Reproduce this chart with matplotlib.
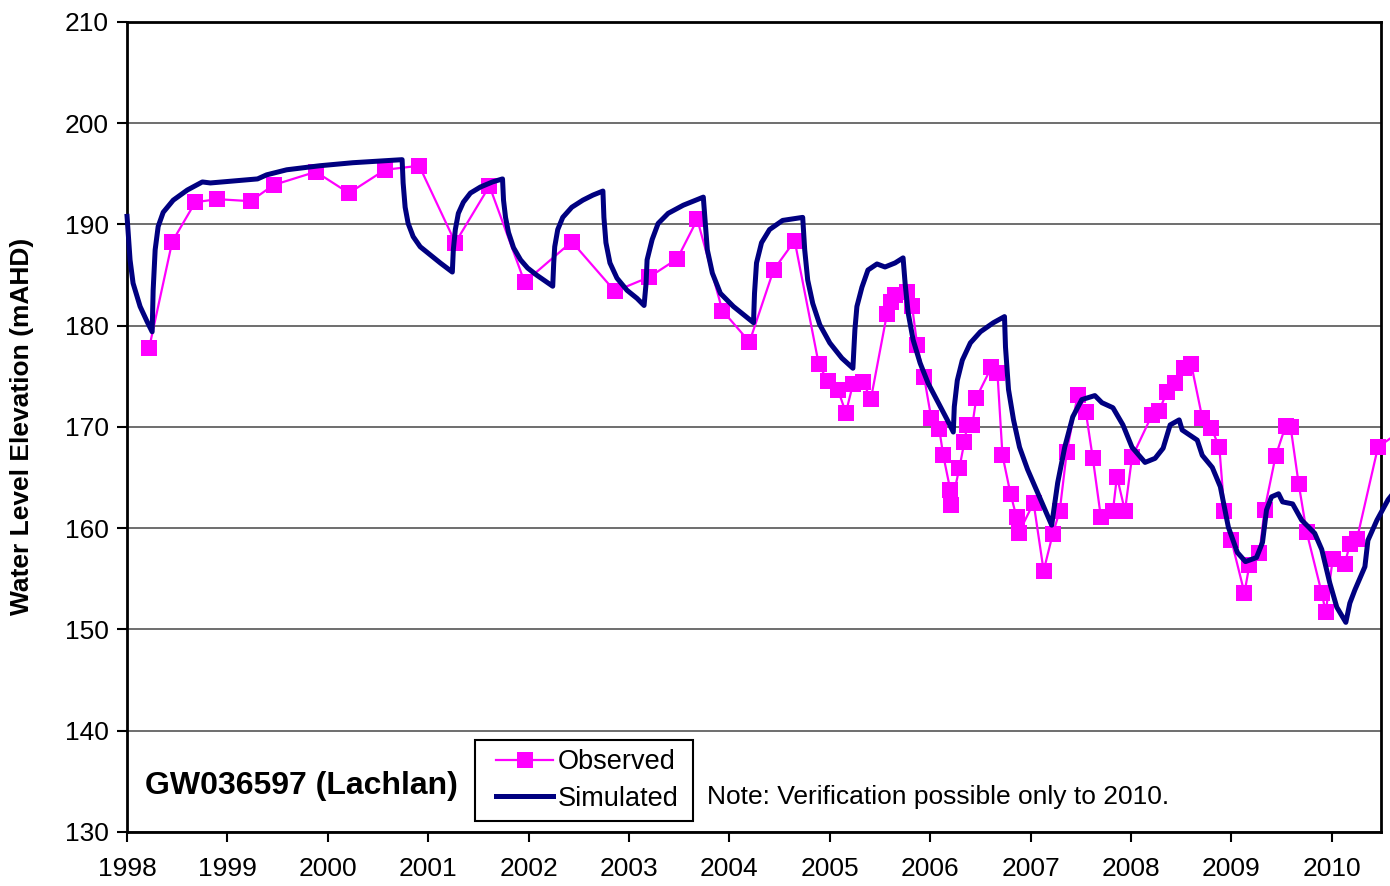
"""Observed vs simulated groundwater level for bore GW036597 (Lachlan)."""
import matplotlib
matplotlib.use("Agg")
import matplotlib.pyplot as plt
from matplotlib.patches import Rectangle

plt.rcParams["font.family"] = ["Liberation Sans", "DejaVu Sans"]

# observed bore readings (decimal year, mAHD)
obs_year = [
    1998.22, 1998.45, 1998.68, 1998.90, 1999.23, 1999.46, 1999.88, 2000.21,
    2000.57, 2000.91, 2001.27, 2001.61, 2001.96, 2002.43, 2002.86, 2003.20,
    2003.48, 2003.68, 2003.93, 2004.20, 2004.44, 2004.65, 2004.89, 2004.98,
    2005.08, 2005.16, 2005.23, 2005.33, 2005.41, 2005.57, 2005.61, 2005.65,
    2005.77, 2005.82, 2005.87, 2005.94, 2006.01, 2006.09, 2006.13, 2006.20,
    2006.21, 2006.29, 2006.34, 2006.37, 2006.42, 2006.46, 2006.61, 2006.67,
    2006.72, 2006.80, 2006.86, 2006.88, 2007.03, 2007.13, 2007.22, 2007.29,
    2007.36, 2007.47, 2007.55, 2007.62, 2007.70, 2007.82, 2007.86, 2007.94,
    2008.01, 2008.21, 2008.28, 2008.36, 2008.44, 2008.53, 2008.60, 2008.71,
    2008.80, 2008.88, 2008.93, 2009.00, 2009.13, 2009.18, 2009.28, 2009.33,
    2009.44, 2009.54, 2009.59, 2009.67, 2009.75, 2009.90, 2009.94, 2010.01,
    2010.13, 2010.18, 2010.25, 2010.46, 2010.70,
]
obs_level = [
    177.8, 188.3, 192.2, 192.5, 192.3, 193.9, 195.2, 193.1,
    195.4, 195.8, 188.2, 193.8, 184.3, 188.3, 183.4, 184.8,
    186.6, 190.5, 181.5, 178.4, 185.5, 188.4, 176.2, 174.5,
    173.7, 171.4, 174.2, 174.4, 172.8, 181.2, 182.3, 183.0,
    183.3, 181.9, 178.1, 174.9, 170.9, 169.8, 167.2, 163.8,
    162.3, 165.9, 168.5, 170.2, 170.2, 172.9, 175.9, 175.3,
    167.2, 163.4, 161.1, 159.5, 162.5, 155.8, 159.4, 161.7,
    167.5, 173.2, 171.5, 166.9, 161.1, 161.7, 165.1, 161.7,
    167.0, 171.2, 171.6, 173.5, 174.3, 175.8, 176.2, 170.9,
    169.9, 168.0, 161.7, 158.8, 153.6, 156.4, 157.6, 161.8,
    167.1, 170.1, 170.0, 164.4, 159.6, 153.6, 151.7, 157.0,
    156.5, 158.4, 158.9, 168.0, 169.7,
]

# model output
sim_year = [
    1998.00, 1998.03, 1998.06, 1998.13, 1998.20, 1998.25, 1998.26, 1998.28,
    1998.31, 1998.36, 1998.46, 1998.60, 1998.75, 1998.83, 1999.30, 1999.39,
    1999.59, 1999.92, 2000.25, 2000.74, 2000.75, 2000.77, 2000.80, 2000.85,
    2000.92, 2001.02, 2001.12, 2001.24, 2001.25, 2001.27, 2001.30, 2001.35,
    2001.42, 2001.52, 2001.64, 2001.74, 2001.75, 2001.77, 2001.80, 2001.85,
    2001.92, 2001.99, 2002.08, 2002.24, 2002.25, 2002.26, 2002.29, 2002.34,
    2002.43, 2002.54, 2002.64, 2002.74, 2002.75, 2002.77, 2002.81, 2002.88,
    2002.98, 2003.08, 2003.15, 2003.17, 2003.18, 2003.23, 2003.29, 2003.39,
    2003.54, 2003.74, 2003.76, 2003.78, 2003.83, 2003.91, 2004.04, 2004.24,
    2004.25, 2004.27, 2004.32, 2004.40, 2004.53, 2004.73, 2004.75, 2004.78,
    2004.83, 2004.90, 2005.00, 2005.12, 2005.23, 2005.25, 2005.27, 2005.32,
    2005.38, 2005.47, 2005.55, 2005.65, 2005.73, 2005.75, 2005.78, 2005.83,
    2005.90, 2005.98, 2006.08, 2006.17, 2006.23, 2006.24, 2006.27, 2006.32,
    2006.40, 2006.50, 2006.63, 2006.74, 2006.75, 2006.78, 2006.83, 2006.89,
    2006.97, 2007.07, 2007.21, 2007.27, 2007.34, 2007.42, 2007.51, 2007.64,
    2007.71, 2007.82, 2007.92, 2008.01, 2008.14, 2008.24, 2008.32, 2008.39,
    2008.48, 2008.51, 2008.66, 2008.71, 2008.81, 2008.89, 2008.97, 2009.06,
    2009.14, 2009.25, 2009.31, 2009.35, 2009.40, 2009.47, 2009.51, 2009.61,
    2009.70, 2009.83, 2009.90, 2009.98, 2010.05, 2010.14, 2010.18, 2010.23,
    2010.33, 2010.36, 2010.45, 2010.56, 2010.60,
]
sim_level = [
    190.8, 186.5, 184.2, 181.9, 180.4, 179.4, 183.5, 187.5,
    189.8, 191.2, 192.4, 193.4, 194.2, 194.1, 194.5, 194.9,
    195.4, 195.8, 196.1, 196.4, 194.1, 191.7, 190.1, 188.8,
    187.8, 187.0, 186.2, 185.3, 187.5, 189.5, 191.1, 192.2,
    193.1, 193.7, 194.2, 194.5, 192.4, 190.7, 189.2, 187.7,
    186.5, 185.7, 185.0, 183.9, 186.2, 187.8, 189.5, 190.7,
    191.7, 192.4, 192.9, 193.3, 190.7, 188.2, 186.2, 184.7,
    183.5, 182.7, 182.0, 184.2, 186.5, 188.5, 190.1, 191.1,
    191.9, 192.7, 190.1, 187.5, 185.2, 183.2, 181.9, 180.3,
    183.2, 186.2, 188.2, 189.5, 190.4, 190.7, 187.5, 184.5,
    182.2, 180.1, 178.3, 176.8, 175.8, 179.6, 181.9, 183.8,
    185.5, 186.1, 185.8, 186.2, 186.7, 184.2, 181.3, 178.6,
    176.3, 174.3, 172.4, 170.7, 169.5, 172.0, 174.6, 176.6,
    178.3, 179.4, 180.3, 180.9, 177.9, 173.7, 170.7, 168.0,
    165.8, 163.5, 160.3, 164.5, 168.0, 171.0, 172.7, 173.1,
    172.4, 171.9, 170.2, 168.0, 166.5, 166.9, 167.9, 170.2,
    170.7, 169.7, 168.7, 167.2, 166.0, 164.1, 160.1, 157.6,
    156.7, 157.1, 158.6, 161.8, 163.1, 163.4, 162.6, 162.4,
    160.8, 159.5, 157.9, 154.6, 152.2, 150.7, 152.6, 153.9,
    156.2, 158.8, 160.8, 162.8, 163.3,
]

year_ticks = list(range(1998, 2011))
level_ticks = list(range(130, 211, 10))

fig = plt.figure(figsize=(13.9, 8.86), dpi=100)
ax = fig.add_axes([0.0914, 0.061, 0.9021, 0.9142])

ax.plot(obs_year, obs_level, color="#FF00FF", linewidth=1.6, marker="s",
        markersize=11, markeredgewidth=0, label="Observed", clip_on=False, zorder=3)
ax.plot(sim_year, sim_level, color="#000080", linewidth=3.6,
        label="Simulated", clip_on=False, zorder=4)

ax.set_xlim(1998, 2010.49)
ax.set_ylim(130, 210)
ax.set_xticks(year_ticks)
ax.set_yticks(level_ticks)
ax.tick_params(axis="both", labelsize=19, length=7, width=1.5, direction="out")
ax.tick_params(axis="x", pad=11)
ax.tick_params(axis="y", pad=6)
ax.grid(True, axis="y", color="#555555", linewidth=1.2)
ax.set_axisbelow(True)
for spine in ax.spines.values():
    spine.set_linewidth(2)
    spine.set_color("black")

fig.text(0.016, 0.519, "Water Level Elevation (mAHD)", rotation=90,
         ha="center", va="center", fontsize=19, fontweight="bold")

ax.text(0.0144, 0.057, "GW036597 (Lachlan)", transform=ax.transAxes,
        ha="left", va="center", fontsize=23, fontweight="bold")
ax.text(0.4625, 0.043, "Note: Verification possible only to 2010.",
        transform=ax.transAxes, ha="left", va="center", fontsize=19)

# legend box drawn separately: the original has wider side padding than top/bottom
ax.add_patch(Rectangle((0.2775, 0.0136), 0.1738, 0.1, transform=ax.transAxes,
                       facecolor="white", edgecolor="black", linewidth=1.5, zorder=5))
ax.legend(loc="center left", bbox_to_anchor=(0.2945, 0.0636), fontsize=19.5,
          numpoints=1, handlelength=2.1, handletextpad=0.15, borderpad=0,
          labelspacing=0.39, frameon=False, borderaxespad=0).set_zorder(6)

fig.savefig("out.png", dpi=100)
